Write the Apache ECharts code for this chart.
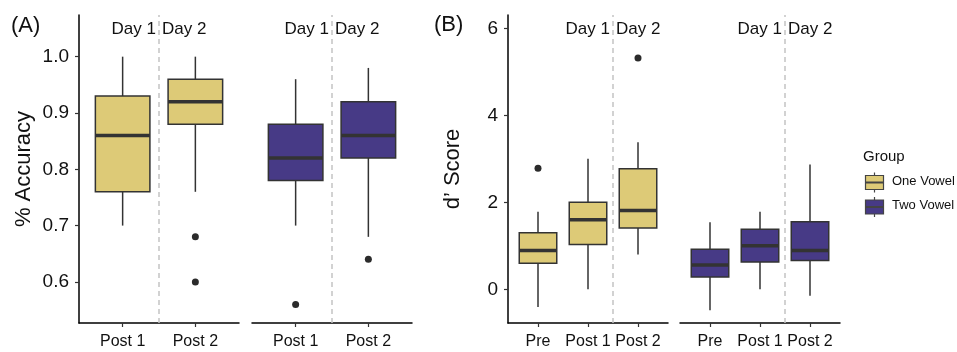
<!DOCTYPE html>
<html>
<head>
<meta charset="utf-8">
<script src="https://cdn.jsdelivr.net/npm/echarts@6/dist/echarts.min.js"></script>
<style>
  html, body { margin: 0; padding: 0; background: #fff; }
  #chart { width: 957px; height: 352px; }
</style>
</head>
<body>
<div id="chart"></div>
<script>
// categories
const accCats = ['Post 1', 'Post 2'];
const dCats = ['Pre', 'Post 1', 'Post 2'];
const groups = ['One Vowel', 'Two Vowel'];

// box stats: [min, q1, median, q3, max] per category
const accOne = [[0.70, 0.76, 0.86, 0.93, 1.00], [0.76, 0.88, 0.92, 0.96, 1.00]];
const accTwo = [[0.70, 0.78, 0.82, 0.88, 0.96], [0.68, 0.82, 0.86, 0.92, 0.98]];
const dOne = [[-0.41, 0.60, 0.89, 1.30, 1.78], [0.00, 1.03, 1.60, 2.00, 3.00], [0.80, 1.41, 1.81, 2.77, 3.38]];
const dTwo = [[-0.48, 0.28, 0.56, 0.92, 1.54], [0.00, 0.63, 1.00, 1.38, 1.78], [-0.15, 0.66, 0.89, 1.55, 2.87]];

// outliers: [category number, value]
const accOneOut = [[2, 0.68], [2, 0.60]];
const accTwoOut = [[1, 0.56], [2, 0.64]];
const dOneOut = [[1, 2.78], [3, 5.32]];
const dTwoOut = [];

// tick labels
const accTicks = [0.6, 0.7, 0.8, 0.9, 1.0];
const dTicks = [0, 2, 4, 6];

const fillColors = ['#DDCA77', '#473A86'];
const lineCol = '#333333';
const font = 'Liberation Sans, Arial, Helvetica, sans-serif';

const chart = echarts.init(document.getElementById('chart'));

function renderBox(params, api) {
  const x = api.value(0);
  const hw = 0.375;
  const pMin = api.coord([x, api.value(1)]);
  const pQ1 = api.coord([x, api.value(2)]);
  const pMed = api.coord([x, api.value(3)]);
  const pQ3 = api.coord([x, api.value(4)]);
  const pMax = api.coord([x, api.value(5)]);
  const xl = api.coord([x - hw, api.value(3)])[0];
  const xr = api.coord([x + hw, api.value(3)])[0];
  const ls = { stroke: lineCol, lineWidth: 1.5 };
  return {
    type: 'group',
    children: [
      { type: 'line', shape: { x1: pMin[0], y1: pMin[1], x2: pQ1[0], y2: pQ1[1] }, style: ls },
      { type: 'line', shape: { x1: pQ3[0], y1: pQ3[1], x2: pMax[0], y2: pMax[1] }, style: ls },
      { type: 'rect', shape: { x: xl, y: pQ3[1], width: xr - xl, height: pQ1[1] - pQ3[1] },
        style: { fill: api.visual('color'), stroke: lineCol, lineWidth: 1.5 } },
      { type: 'line', shape: { x1: xl, y1: pMed[1], x2: xr, y2: pMed[1] }, style: { stroke: lineCol, lineWidth: 3.5 } }
    ]
  };
}

const grids = [
  { left: 79, top: 15, width: 160, height: 308 },
  { left: 252, top: 15, width: 160, height: 308 },
  { left: 508, top: 15, width: 160, height: 308 },
  { left: 680, top: 15, width: 160, height: 308 }
];

function xAxisFor(g, cats) {
  const vals = cats.map((c, i) => i + 1);
  return {
    type: 'value', gridIndex: g, min: 0.4, max: cats.length + 0.6,
    splitLine: { show: false },
    axisLine: { show: true, onZero: false, lineStyle: { color: '#000', width: 1.5 } },
    axisTick: { show: true, customValues: vals, length: 4, lineStyle: { color: '#333', width: 1.2 } },
    axisLabel: { show: true, customValues: vals, margin: 11, fontSize: 16, color: '#111', fontFamily: font,
      formatter: v => cats[Math.round(v) - 1] }
  };
}

function yAxisFor(g, min, max, ticks, show, fmt, name) {
  return {
    type: 'value', gridIndex: g, min: min, max: max, show: show,
    name: name, nameLocation: 'middle', nameGap: 44,
    nameTextStyle: { fontSize: 22, color: '#111', fontFamily: font },
    splitLine: { show: false },
    axisLine: { show: true, lineStyle: { color: '#000', width: 1.5 } },
    axisTick: { show: true, customValues: ticks, length: 4, lineStyle: { color: '#333', width: 1.2 } },
    axisLabel: { show: true, customValues: ticks, margin: 10, fontSize: 19, color: '#111', fontFamily: font,
      formatter: fmt }
  };
}

function boxData(stats) {
  return stats.map((s, i) => [i + 1].concat(s));
}

function boxSeries(g, stats, color, cutX) {
  return {
    type: 'custom', xAxisIndex: g, yAxisIndex: g, renderItem: renderBox,
    itemStyle: { color: color },
    encode: { x: 0, y: [1, 2, 3, 4, 5] },
    data: boxData(stats),
    z: 3,
    markLine: {
      silent: true, symbol: 'none', label: { show: false },
      lineStyle: { type: [5, 4], color: '#c4c4c4', width: 1.5 },
      data: [{ xAxis: cutX }]
    }
  };
}

function outSeries(g, pts) {
  return {
    type: 'scatter', xAxisIndex: g, yAxisIndex: g, symbol: 'circle', symbolSize: 7,
    itemStyle: { color: '#2b2b2b', opacity: 1 }, data: pts, z: 4
  };
}

const accMin = 0.527, accMax = 1.074;
const dMin = -0.775, dMax = 6.306;

function dayLabels(xCut) {
  return [
    { type: 'text', right: 957 - xCut + 3, top: 21,
      style: { text: 'Day 1', fontSize: 17, fill: '#111', fontFamily: font } },
    { type: 'text', left: xCut + 3, top: 21,
      style: { text: 'Day 2', fontSize: 17, fill: '#111', fontFamily: font } }
  ];
}

// legend key: small boxplot glyph
function legendKey(y, color, label) {
  return [
    { type: 'line', shape: { x1: 874.5, y1: y - 10, x2: 874.5, y2: y + 10 }, style: { stroke: '#444', lineWidth: 1.2 } },
    { type: 'rect', shape: { x: 865.5, y: y - 7, width: 18, height: 14 },
      style: { fill: color, stroke: '#444', lineWidth: 1.2 } },
    { type: 'line', shape: { x1: 865.5, y1: y, x2: 883.5, y2: y }, style: { stroke: '#444', lineWidth: 2 } },
    { type: 'text', left: 892, top: y - 8, style: { text: label, fontSize: 13, fill: '#111', fontFamily: font } }
  ];
}

const option = {
  animation: false,
  grid: grids,
  xAxis: [xAxisFor(0, accCats), xAxisFor(1, accCats), xAxisFor(2, dCats), xAxisFor(3, dCats)],
  yAxis: [
    yAxisFor(0, accMin, accMax, accTicks, true, v => v.toFixed(1), '% Accuracy'),
    yAxisFor(1, accMin, accMax, accTicks, false, v => v.toFixed(1), ''),
    yAxisFor(2, dMin, dMax, dTicks, true, v => String(v), 'd\u2019 Score'),
    yAxisFor(3, dMin, dMax, dTicks, false, v => String(v), '')
  ],
  series: [
    boxSeries(0, accOne, fillColors[0], 1.5),
    boxSeries(1, accTwo, fillColors[1], 1.5),
    boxSeries(2, dOne, fillColors[0], 2.5),
    boxSeries(3, dTwo, fillColors[1], 2.5),
    outSeries(0, accOneOut),
    outSeries(1, accTwoOut),
    outSeries(2, dOneOut),
    outSeries(3, dTwoOut)
  ],
  graphic: [
    { type: 'text', left: 11, top: 15, style: { text: '(A)', fontSize: 22, fill: '#111', fontFamily: font } },
    { type: 'text', left: 434, top: 14, style: { text: '(B)', fontSize: 22, fill: '#111', fontFamily: font } },
    ...dayLabels(159),
    ...dayLabels(332),
    ...dayLabels(613),
    ...dayLabels(785),
    { type: 'text', left: 863, top: 149, style: { text: 'Group', fontSize: 15, fill: '#111', fontFamily: font } },
    ...legendKey(182.5, fillColors[0], groups[0]),
    ...legendKey(207, fillColors[1], groups[1])
  ]
};

chart.setOption(option);
</script>
</body>
</html>
